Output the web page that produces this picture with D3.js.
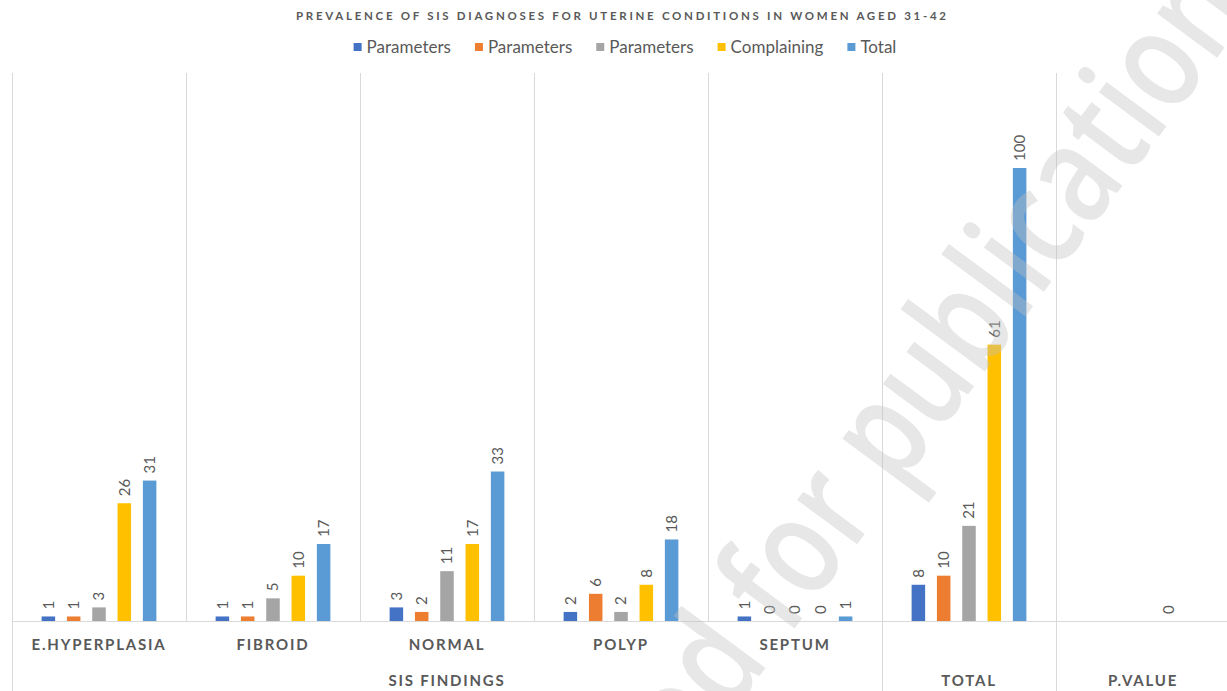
<!DOCTYPE html>
<html>
<head>
<meta charset="utf-8">
<script src="https://cdn.jsdelivr.net/npm/d3@7"></script>
<style>
  html, body { margin: 0; padding: 0; background: #fff; }
  svg { display: block; font-family: Lato, "Open Sans", sans-serif; }
</style>
</head>
<body>
<div id="content"></div>
<script>
// chart values
var categories = ["E.HYPERPLASIA", "FIBROID", "NORMAL", "POLYP", "SEPTUM", "TOTAL", "P.VALUE"];
var categoryLabels = ["E.HYPERPLASIA", "FIBROID", "NORMAL", "POLYP", "SEPTUM", "", ""];
var groupNames = ["SIS FINDINGS", "TOTAL", "P.VALUE"];
var groupSizes = [5, 1, 1];
var seriesNames = ["Parameters", "Parameters", "Parameters", "Complaining", "Total"];
var parameters1 = [1, 1, 3, 2, 1, 8, null];
var parameters2 = [1, 1, 2, 6, 0, 10, null];
var parameters3 = [3, 5, 11, 2, 0, 21, null];
var complaining = [26, 10, 17, 8, 0, 61, 0];
var total = [31, 17, 33, 18, 1, 100, null];

var seriesValues = [parameters1, parameters2, parameters3, complaining, total];
var colors = ["#4472C4", "#ED7D31", "#A5A5A5", "#FFC000", "#5B9BD5"];
var textColor = "#595959";
var gridColor = "#d9d9d9";

var width = 1227, height = 691;
var plotTop = 73, plotLeft = 12, plotRight = 1230, baseY = 621;

var svg = d3.select('#content').append('svg')
  .attr('width', width)
  .attr('height', height);

var x0 = d3.scaleBand().domain(categories).range([plotLeft, plotRight]).padding(0);
var x1 = d3.scaleBand().domain(d3.range(seriesNames.length))
  .range([0, x0.bandwidth()]).paddingInner(0.466).paddingOuter(1.17);
var y = d3.scaleLinear().domain([0, 100]).range([baseY, 168]);

// title
svg.append('text')
  .attr('x', 621).attr('y', 20)
  .attr('text-anchor', 'middle')
  .attr('font-size', 11.5).attr('font-weight', 'bold')
  .attr('fill', textColor)
  .attr('textLength', 650).attr('lengthAdjust', 'spacing')
  .text('PREVALENCE OF SIS DIAGNOSES FOR UTERINE CONDITIONS IN WOMEN AGED 31-42');

// legend
var legend = svg.append('g').attr('class', 'legend');
var items = legend.selectAll('g').data(seriesNames).enter().append('g');
items.append('rect').attr('width', 8).attr('height', 8).attr('y', 43)
  .attr('fill', function(d, i) { return colors[i]; });
items.append('text').attr('x', 13).attr('y', 53)
  .attr('font-size', 17).attr('fill', textColor)
  .text(function(d) { return d; });
var lx = 0, positions = [];
items.each(function() {
  positions.push(lx);
  lx += 13 + this.querySelector('text').getComputedTextLength() + 24;
});
lx -= 24;
var legendStart = 625 - lx / 2;
items.attr('transform', function(d, i) { return 'translate(' + (legendStart + positions[i]) + ',0)'; });

// grid: inner separators stop at baseline, group borders go down to the bottom
var groupEdges = [0];
groupSizes.forEach(function(s) { groupEdges.push(groupEdges[groupEdges.length - 1] + s); });
var grid = svg.append('g').attr('class', 'grid').attr('stroke', gridColor).attr('stroke-width', 1);
d3.range(categories.length + 1).forEach(function(i) {
  var xx = Math.round(plotLeft + i * x0.step()) + 0.5;
  var isEdge = groupEdges.indexOf(i) >= 0;
  grid.append('line')
    .attr('x1', xx).attr('x2', xx)
    .attr('y1', plotTop).attr('y2', isEdge ? height : baseY);
});
grid.append('line')
  .attr('x1', plotLeft).attr('x2', plotRight)
  .attr('y1', baseY + 0.5).attr('y2', baseY + 0.5);

// bars
var cells = [];
categories.forEach(function(c, ci) {
  seriesValues.forEach(function(vals, si) {
    if (vals[ci] !== null) cells.push({ cat: c, s: si, v: vals[ci] });
  });
});

var bars = svg.append('g').attr('class', 'bars');
bars.selectAll('rect').data(cells).enter().append('rect')
  .attr('x', function(d) { return x0(d.cat) + x1(d.s); })
  .attr('width', x1.bandwidth())
  .attr('y', function(d) { return y(d.v); })
  .attr('height', function(d) { return baseY - y(d.v); })
  .attr('fill', function(d) { return colors[d.s]; });

// value labels, rotated
svg.append('g').attr('class', 'labels').selectAll('text').data(cells).enter().append('text')
  .attr('transform', function(d) {
    var cx = x0(d.cat) + x1(d.s) + x1.bandwidth() / 2;
    return 'translate(' + cx + ',' + (y(d.v) - 7) + ') rotate(-90)';
  })
  .attr('dy', '0.35em')
  .attr('font-size', 15).attr('fill', textColor)
  .text(function(d) { return d.v; });

// category axis labels
svg.append('g').attr('class', 'cat-labels').selectAll('text').data(categories).enter().append('text')
  .attr('x', function(d) { return x0(d) + x0.bandwidth() / 2; })
  .attr('y', 650)
  .attr('text-anchor', 'middle')
  .attr('font-size', 15).attr('font-weight', 'bold')
  .attr('letter-spacing', '1.8px')
  .attr('fill', textColor)
  .text(function(d, i) { return categoryLabels[i]; });

// group labels
svg.append('g').attr('class', 'group-labels').selectAll('text').data(groupNames).enter().append('text')
  .attr('x', function(d, i) {
    var a = plotLeft + groupEdges[i] * x0.step(), b = plotLeft + groupEdges[i + 1] * x0.step();
    return (a + b) / 2;
  })
  .attr('y', 686)
  .attr('text-anchor', 'middle')
  .attr('font-size', 15).attr('font-weight', 'bold')
  .attr('letter-spacing', '1.8px')
  .attr('fill', textColor)
  .text(function(d) { return d; });

// watermark over the chart
var wm = svg.append('g')
  .attr('transform', 'translate(730,716) rotate(-53.5)')
  .attr('fill', '#bfbfbf').attr('fill-opacity', 0.38)
  .attr('font-family', '"Open Sans", sans-serif')
  .attr('font-weight', 600)
  .attr('font-size', 138);
wm.append('text').attr('text-anchor', 'end').text('Accepte');
wm.append('text').attr('textLength', 880).attr('lengthAdjust', 'spacingAndGlyphs')
  .text('d for publication');
</script>
</body>
</html>
